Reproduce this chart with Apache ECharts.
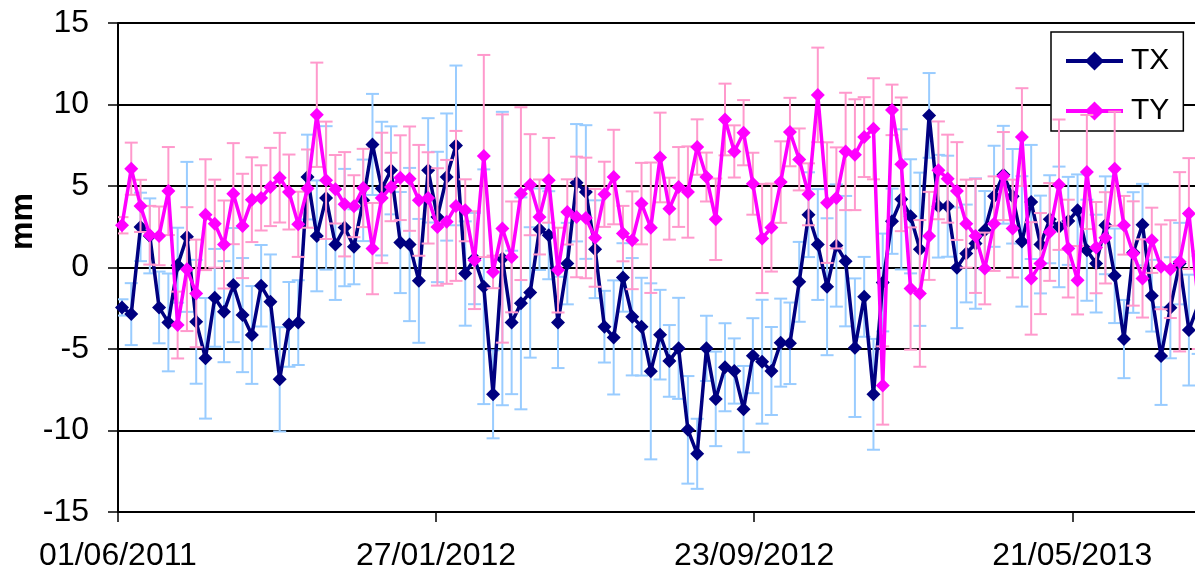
<!DOCTYPE html>
<html>
<head>
<meta charset="utf-8">
<script src="https://cdn.jsdelivr.net/npm/echarts@6/dist/echarts.min.js"></script>
<style>
html,body{margin:0;padding:0;background:#fff;}
#chart{width:1195px;height:578px;}
</style>
</head>
<body>
<div id="chart"></div>
<script>
// Weekly observation dates
const dates = [
'2011-06-04','2011-06-11','2011-06-18','2011-06-25','2011-07-02','2011-07-09','2011-07-16','2011-07-23','2011-07-30','2011-08-06',
'2011-08-13','2011-08-20','2011-08-27','2011-09-03','2011-09-10','2011-09-17','2011-09-24','2011-10-01','2011-10-08','2011-10-15',
'2011-10-22','2011-10-29','2011-11-05','2011-11-12','2011-11-19','2011-11-26','2011-12-03','2011-12-10','2011-12-17','2011-12-24',
'2011-12-31','2012-01-07','2012-01-14','2012-01-21','2012-01-28','2012-02-04','2012-02-11','2012-02-18','2012-02-25','2012-03-03',
'2012-03-10','2012-03-17','2012-03-24','2012-03-31','2012-04-07','2012-04-14','2012-04-21','2012-04-28','2012-05-05','2012-05-12',
'2012-05-19','2012-05-26','2012-06-02','2012-06-09','2012-06-16','2012-06-23','2012-06-30','2012-07-07','2012-07-14','2012-07-21',
'2012-07-28','2012-08-04','2012-08-11','2012-08-18','2012-08-25','2012-09-01','2012-09-08','2012-09-15','2012-09-22','2012-09-29',
'2012-10-06','2012-10-13','2012-10-20','2012-10-27','2012-11-03','2012-11-10','2012-11-17','2012-11-24','2012-12-01','2012-12-08',
'2012-12-15','2012-12-22','2012-12-29','2013-01-05','2013-01-12','2013-01-19','2013-01-26','2013-02-02','2013-02-09','2013-02-16',
'2013-02-23','2013-03-02','2013-03-09','2013-03-16','2013-03-23','2013-03-30','2013-04-06','2013-04-13','2013-04-20','2013-04-27',
'2013-05-04','2013-05-11','2013-05-18','2013-05-25','2013-06-01','2013-06-08','2013-06-15','2013-06-22','2013-06-29','2013-07-06',
'2013-07-13','2013-07-20','2013-07-27','2013-08-03','2013-08-10','2013-08-17','2013-08-24'
];

const TX = [
-2.45,-2.86,2.49,1.94,-2.45,-3.37,0.14,1.88,-3.33,-5.57,
-1.86,-2.71,-1.08,-2.92,-4.14,-1.12,-2.10,-6.86,-3.49,-3.38,
5.55,1.94,4.27,1.41,2.45,1.27,4.12,7.55,4.84,5.96,
1.53,1.41,-0.82,5.96,3.10,5.55,7.49,-0.37,0.55,-1.18,
-7.78,0.55,-3.37,-2.20,-1.53,2.35,1.98,-3.37,0.24,5.20,
4.63,1.12,-3.63,-4.29,-0.61,-3.02,-3.63,-6.37,-4.12,-5.73,
-4.96,-9.96,-11.43,-4.96,-8.06,-6.12,-6.35,-8.69,-5.41,-5.78,
-6.35,-4.61,-4.65,-0.88,3.24,1.41,-1.18,1.35,0.39,-4.92,
-1.80,-7.78,-0.92,2.84,4.18,3.14,1.12,9.33,3.76,3.76,
-0.02,0.86,1.47,2.29,4.37,5.69,4.37,1.60,4.02,1.41,
2.96,2.49,2.86,3.51,1.06,0.24,2.59,-0.51,-4.39,0.92,
2.63,-1.73,-5.43,-2.47,0.24,-3.84,-2.30
];
const TXerr = [
0.5,1.9,2.1,2.3,2.2,3.0,2.3,4.6,3.8,3.7,
3.0,3.1,3.5,3.5,3.0,2.5,2.9,3.2,2.6,2.6,
2.6,3.4,4.4,3.4,3.6,2.3,2.5,3.1,4.1,2.7,
3.1,4.7,3.8,3.2,4.0,3.9,4.9,3.2,2.8,7.2,
2.7,9.0,4.4,6.5,4.0,2.5,2.7,2.8,2.5,3.6,
4.1,3.0,2.2,3.5,2.1,3.6,3.0,5.4,2.75,2.2,
3.1,3.3,2.15,2.0,2.9,2.7,2.0,2.65,2.3,3.8,
2.7,2.7,2.5,2.45,2.6,3.4,4.2,3.75,4.0,4.25,
2.45,3.4,3.0,2.0,4.3,3.5,4.7,2.6,3.15,3.1,
3.7,3.0,4.0,2.4,3.1,3.0,2.9,4.0,3.5,3.0,
2.7,3.7,2.7,2.2,3.1,3.0,3.0,2.9,2.4,3.7,
2.5,2.2,3.0,3.1,2.5,3.4,3.0
];
const TY = [
2.59,6.06,3.78,1.98,1.94,4.69,-3.53,-0.10,-1.59,3.24,
2.69,1.41,4.53,2.55,4.16,4.27,4.94,5.51,4.63,2.65,
4.84,9.37,5.35,4.80,3.88,3.76,4.88,1.16,4.27,4.94,
5.51,5.45,4.12,4.27,2.49,2.80,3.78,3.51,0.45,6.84,
-0.27,2.39,0.65,4.53,5.08,3.10,5.35,-0.16,3.41,3.10,
3.04,1.82,4.49,5.55,2.08,1.67,3.92,2.44,6.75,3.61,
4.94,4.63,7.39,5.55,2.96,9.08,7.12,8.27,5.14,1.78,
2.45,5.24,8.31,6.63,4.49,10.59,3.98,4.27,7.12,6.92,
8.00,8.51,-7.24,9.67,6.33,-1.29,-1.59,1.94,5.96,5.45,
4.69,2.69,1.94,-0.06,2.69,5.61,2.39,8.00,-0.67,0.24,
2.18,5.08,1.16,-0.78,5.86,1.22,1.82,6.06,2.59,0.86,
-0.67,1.67,0.04,-0.10,0.35,3.31,-2.00
];
const TYerr = [
0.5,1.6,1.6,1.8,1.8,2.7,2.05,3.8,3.3,3.4,
2.7,2.7,3.1,3.2,2.6,2.0,2.4,2.75,2.3,2.0,
2.4,3.2,3.6,2.1,3.2,1.9,2.4,2.8,4.0,2.1,
2.6,3.2,3.4,2.8,3.6,3.8,4.6,1.9,3.0,6.2,
1.0,7.0,3.4,5.3,3.1,2.3,2.6,2.6,2.0,3.7,
3.7,3.0,2.0,2.9,1.7,3.0,2.5,4.0,2.75,1.9,
2.45,2.8,1.7,1.5,2.5,2.2,1.6,2.0,1.9,3.35,
2.7,2.5,2.1,1.9,1.9,2.9,3.7,3.1,3.6,3.4,
2.45,3.1,2.4,1.55,4.1,3.75,4.5,2.7,3.0,2.7,
3.0,2.7,3.5,2.2,2.9,2.7,3.0,3.0,3.45,3.1,
3.0,4.0,3.0,2.1,3.5,2.8,2.8,3.5,1.8,3.2,
2.4,2.0,2.6,3.0,5.5,3.4,3.0
];

const xTickLabels = ['01/06/2011','27/01/2012','23/09/2012','21/05/2013'];
const yTicks = {min:-15, max:15, step:5};
const seriesNames = ['TX','TY'];

const t0 = Date.UTC(2011,5,1);
function dayOf(s){ const p = s.split('-').map(Number); return (Date.UTC(p[0],p[1]-1,p[2]) - t0)/86400000; }
const days = dates.map(dayOf);

function pts(vals){ return vals.map((v,i)=>[days[i], v]); }
function errPts(vals, errs){ return vals.map((v,i)=>[days[i], v, errs[i]]); }

function errRenderer(color){
  return function(params, api){
    const x = api.value(0), v = api.value(1), e = api.value(2);
    const top = api.coord([x, v + e]);
    const bot = api.coord([x, v - e]);
    const hw = 6.5;
    const st = {stroke: color, lineWidth: 2, fill: null};
    return {type:'group', children:[
      {type:'line', shape:{x1:top[0], y1:top[1], x2:bot[0], y2:bot[1]}, style:st},
      {type:'line', shape:{x1:top[0]-hw, y1:top[1], x2:top[0]+hw, y2:top[1]}, style:st},
      {type:'line', shape:{x1:bot[0]-hw, y1:bot[1], x2:bot[0]+hw, y2:bot[1]}, style:st}
    ]};
  };
}

const FONT = "'Liberation Sans', Arial, sans-serif";
const chart = echarts.init(document.getElementById('chart'), null, {renderer:'canvas'});
chart.setOption({
  animation: false,
  backgroundColor: '#fff',
  textStyle: {fontFamily: FONT, color:'#000'},
  grid: {left:118, top:23, right:0, bottom:66, containLabel:false},
  xAxis: {
    type:'value', min:0, max:812.6, interval:240,
    axisLine:{show:true, onZero:false, lineStyle:{color:'#000', width:2}},
    axisTick:{show:true, inside:false, length:10, lineStyle:{color:'#000', width:1.5}},
    splitLine:{show:false},
    axisLabel:{
      show:true, margin:28, fontSize:32, fontFamily:FONT, color:'#000', showMaxLabel:false,
      formatter: function(v){
        const k = Math.round(v/240);
        if (Math.abs(v - k*240) < 0.01 && k >= 0 && k < xTickLabels.length) return xTickLabels[k];
        return '';
      }
    }
  },
  yAxis: {
    type:'value', min:yTicks.min, max:yTicks.max, interval:yTicks.step,
    axisLine:{show:true, onZero:false, lineStyle:{color:'#000', width:2}},
    axisTick:{show:true, length:10, lineStyle:{color:'#000', width:1.5}},
    splitLine:{show:true, lineStyle:{color:'#000', width:1.8}},
    axisLabel:{margin:29, fontSize:32, fontFamily:FONT, color:'#000'}
  },
  legend: {
    data: seriesNames,
    left: 1051, top: 32,
    orient: 'vertical',
    itemWidth: 57, itemHeight: 24, itemGap: 20,
    padding: [14, 14, 5, 13],
    borderColor: '#000', borderWidth: 1.5,
    backgroundColor: '#fff',
    lineStyle: {width: 4},
    textStyle: {fontSize:30, fontFamily:FONT, color:'#000', padding:[0,0,0,3]}
  },
  graphic: [{
    type:'text', left: 7, top: 193, rotation: Math.PI/2,
    style: {text:'mm', font: "bold 32px 'Liberation Sans', Arial, sans-serif", fill:'#000'}
  }],
  series: [
    {
      type:'custom', name:'TX err', clip:true, z:2,
      renderItem: errRenderer('#99CCFF'),
      encode:{x:0, y:1},
      data: errPts(TX, TXerr)
    },
    {
      type:'line', name:'TX', z:3,
      data: pts(TX),
      symbol:'diamond', symbolSize:14, showAllSymbol:true,
      lineStyle:{color:'#000080', width:3.5},
      itemStyle:{color:'#000080'},
      clip:true
    },
    {
      type:'custom', name:'TY err', clip:true, z:4,
      renderItem: errRenderer('#FF99CC'),
      encode:{x:0, y:1},
      data: errPts(TY, TYerr)
    },
    {
      type:'line', name:'TY', z:5,
      data: pts(TY),
      symbol:'diamond', symbolSize:14, showAllSymbol:true,
      lineStyle:{color:'#FF00FF', width:3.5},
      itemStyle:{color:'#FF00FF'},
      clip:true
    }
  ]
});
</script>
</body>
</html>
